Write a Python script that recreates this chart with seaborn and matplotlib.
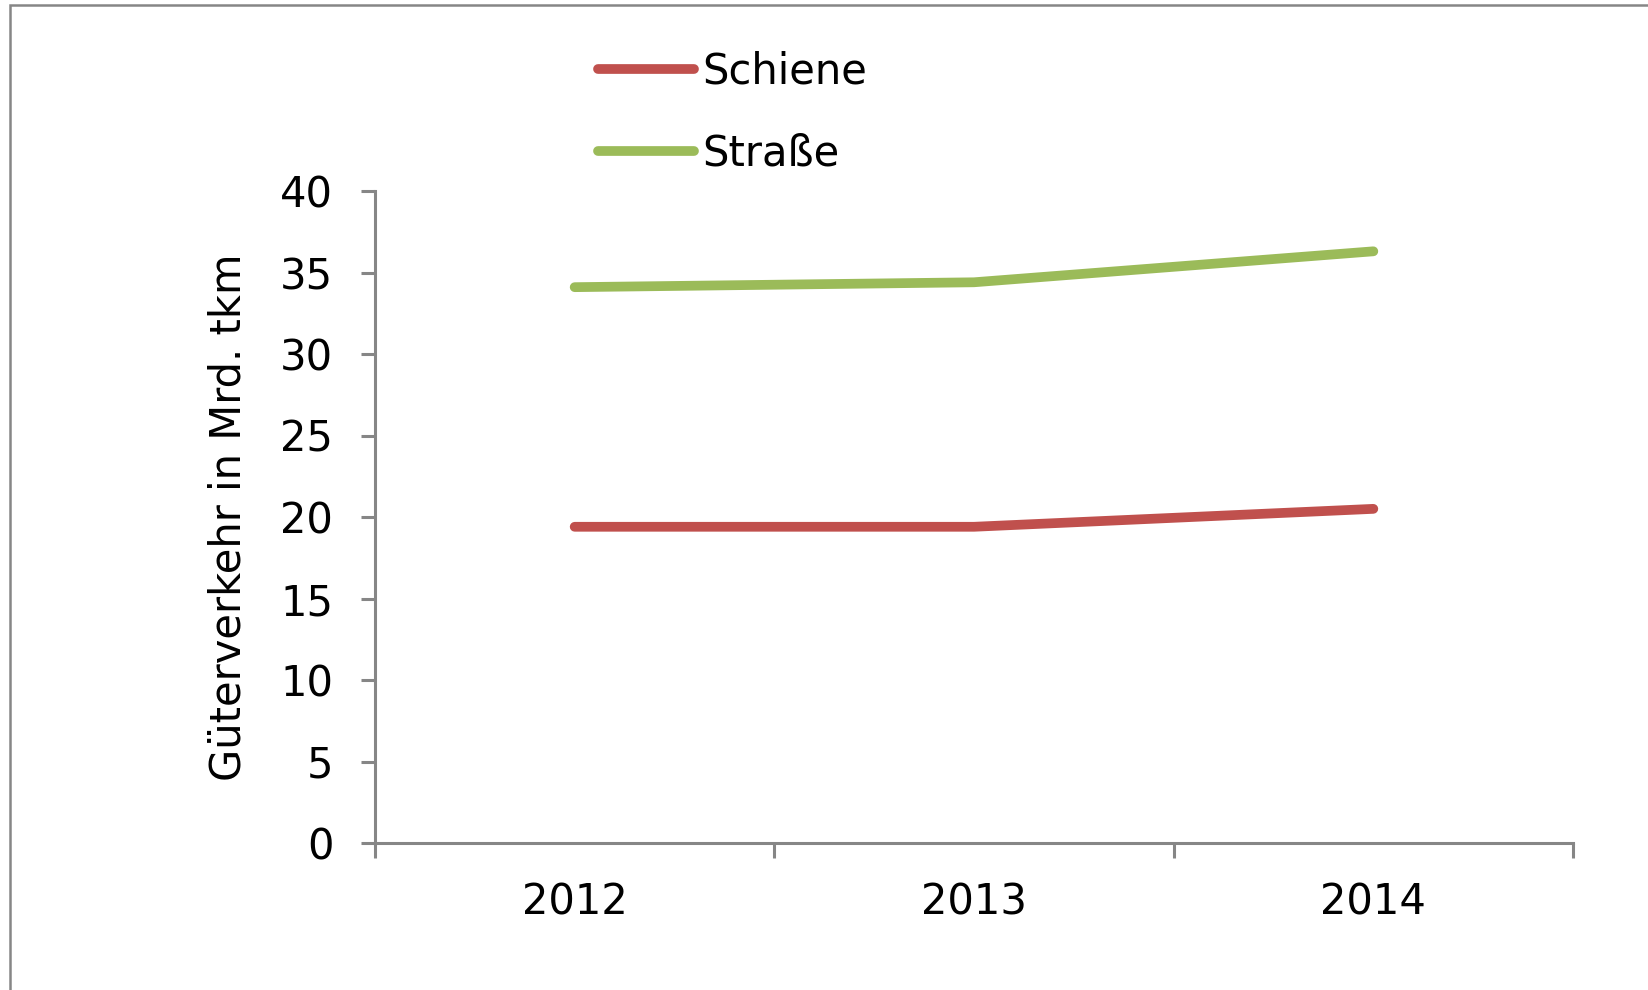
import matplotlib
matplotlib.use("Agg")
import matplotlib.pyplot as plt
import seaborn as sns
import pandas as pd
from matplotlib.patches import Rectangle

# Values (Mrd. tkm)
years = ["2012", "2013", "2014"]
schiene = [19.4, 19.4, 20.5]
strasse = [34.1, 34.4, 36.3]
series_names = ["Schiene", "Straße"]
colors = {"Schiene": "#C0504D", "Straße": "#9BBB59"}
y_ticks = [0, 5, 10, 15, 20, 25, 30, 35, 40]

df = pd.DataFrame({
    "Jahr": years * 2,
    "Wert": schiene + strasse,
    "Verkehr": [series_names[0]] * 3 + [series_names[1]] * 3,
})

sns.set_style("white")
plt.rcParams["font.family"] = ["DejaVu Sans"]
plt.rcParams["text.color"] = "black"
plt.rcParams["axes.labelcolor"] = "black"
plt.rcParams["xtick.labelcolor"] = "black"
plt.rcParams["ytick.labelcolor"] = "black"

fig = plt.figure(figsize=(16.48, 9.9), dpi=100)
ax = fig.add_axes([375 / 1648, 1 - 843 / 990, 1198 / 1648, 652 / 990])

sns.lineplot(data=df, x="Jahr", y="Wert", hue="Verkehr", palette=colors,
             linewidth=7, ax=ax, legend=False, sort=False)
for line in ax.get_lines():
    line.set_solid_capstyle("round")
    line.set_solid_joinstyle("round")

axis_grey = "#868686"
ax.set_xlim(-0.5, 2.5)
ax.set_ylim(0, 40)
ax.set_yticks(y_ticks)
ax.set_xticks([0, 1, 2])
ax.set_xticks([-0.5, 0.5, 1.5, 2.5], minor=True)
ax.tick_params(axis="x", which="major", length=0, pad=28, labelsize=30)
ax.tick_params(axis="x", which="minor", length=11, width=2.2, color=axis_grey, direction="out")
ax.tick_params(axis="y", length=10, width=2.2, color=axis_grey, direction="out", pad=20, labelsize=30)
ax.xaxis.set_ticks_position("bottom")
ax.yaxis.set_ticks_position("left")

for side in ["top", "right"]:
    ax.spines[side].set_visible(False)
for side in ["left", "bottom"]:
    ax.spines[side].set_color(axis_grey)
    ax.spines[side].set_linewidth(2.2)

ax.set_xlabel("")
ax.set_ylabel("Güterverkehr in Mrd. tkm", fontsize=30, labelpad=22)

# legend above the plot
handles = [plt.Line2D([], [], color=colors[n], linewidth=7, solid_capstyle="round") for n in series_names]
fig.legend(handles, series_names, loc="upper left", bbox_to_anchor=(598 / 1648, 1 - 51 / 990),
           frameon=False, fontsize=30, handlelength=2.3, handletextpad=0.2,
           labelspacing=0.95, borderpad=0, borderaxespad=0)

# chart frame (cut off at right and bottom)
fig.patches.append(Rectangle((9.5 / 1648, -0.1), 1.2, 1 - 5 / 990 + 0.1, transform=fig.transFigure,
                             fill=False, edgecolor=axis_grey, linewidth=1.8))

fig.savefig("out.png", dpi=100, facecolor="white")
